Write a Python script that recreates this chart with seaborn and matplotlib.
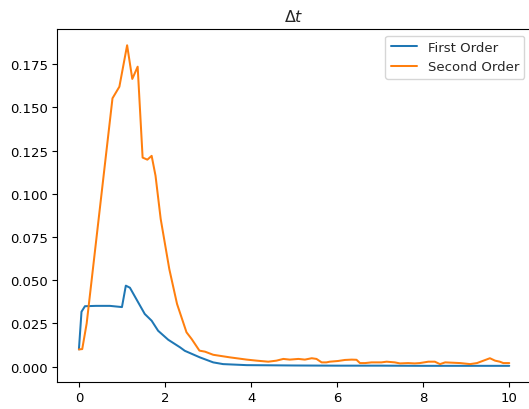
import numpy as np
import pandas as pd
import matplotlib
matplotlib.use("Agg")
import matplotlib.pyplot as plt
import seaborn as sns

first_x = [0.0, 0.06, 0.14, 0.4, 0.72, 1.0, 1.09, 1.185, 1.355, 1.53, 1.69, 1.84, 2.075,
           2.35, 2.46, 2.81, 3.12, 3.35, 3.9, 4.5, 5.0, 6.0, 7.0, 8.0, 9.0, 10.0]
first_y = [0.0100, 0.0318, 0.0350, 0.0352, 0.0352, 0.0345, 0.0469, 0.0457, 0.0382, 0.0305,
           0.0266, 0.0208, 0.0156, 0.0112, 0.0092, 0.0054, 0.0025, 0.0015, 0.0009, 0.0008,
           0.0007, 0.0006, 0.0006, 0.0005, 0.0005, 0.0005]

second_x = [0.0, 0.077, 0.18, 0.78, 0.94, 1.12, 1.24, 1.365, 1.48,
            1.59, 1.69, 1.78, 1.90, 2.10, 2.28, 2.50, 2.62, 2.80, 2.93, 3.12, 3.51, 3.90,
            4.13, 4.40, 4.59, 4.75, 4.90, 5.10, 5.25, 5.41, 5.52, 5.64, 5.75, 5.83, 6.02,
            6.18, 6.34, 6.45, 6.53, 6.65, 6.80, 7.03, 7.15, 7.34, 7.46, 7.65, 7.80, 7.92,
            8.12, 8.27, 8.39, 8.51, 8.86, 9.09, 9.25, 9.40, 9.55, 9.67, 9.78, 9.86, 10.0]
second_y = [0.0100, 0.0102, 0.0250, 0.1553, 0.1620, 0.1860,
            0.1665, 0.1736, 0.1210, 0.1198, 0.1220, 0.1105, 0.0855, 0.0565, 0.0363, 0.0199,
            0.0160, 0.0093, 0.0087, 0.0069, 0.0054, 0.0041, 0.0035, 0.0029, 0.0035, 0.0045,
            0.0041, 0.0045, 0.0041, 0.0049, 0.0045, 0.0025, 0.0025, 0.0029, 0.0033, 0.0039,
            0.0041, 0.0040, 0.0021, 0.0021, 0.0025, 0.0025, 0.0029, 0.0025, 0.0019, 0.0021,
            0.0019, 0.0021, 0.0029, 0.0029, 0.0015, 0.0025, 0.0021, 0.0015, 0.0021, 0.0035,
            0.0049, 0.0035, 0.0029, 0.0021, 0.0021]

labels = ["First Order", "Second Order"]

df = pd.concat([
    pd.DataFrame({"x": first_x, "y": first_y, "series": labels[0]}),
    pd.DataFrame({"x": second_x, "y": second_y, "series": labels[1]}),
], ignore_index=True)

sns.set_style("white")
plt.rcParams["font.family"] = ["DejaVu Sans"]
plt.rcParams["mathtext.fontset"] = "dejavusans"
fs = 9.5

fig = plt.figure(figsize=(5.29, 4.10), dpi=100)
W, H = 529, 410
left, right, top, bottom = 57.4, 530.8, 30.0, 382.7
ax = fig.add_axes([left / W, (H - bottom) / H, (right - left) / W, (bottom - top) / H])

sns.lineplot(data=df, x="x", y="y", hue="series", palette=["#1f77b4", "#ff7f0e"],
             estimator=None, sort=True, linewidth=1.45, ax=ax)

ax.set_xlim(-0.5, 10.5)
ax.set_ylim(-0.00868, 0.1954)
ax.set_xticks([0, 2, 4, 6, 8, 10])
ax.set_yticks([0, 0.025, 0.05, 0.075, 0.1, 0.125, 0.15, 0.175])
ax.set_yticklabels([f"{v:.3f}" for v in [0, 0.025, 0.05, 0.075, 0.1, 0.125, 0.15, 0.175]])
ax.set_xlabel("")
ax.set_ylabel("")
ax.set_title(r"$\Delta t$", fontsize=11.4, pad=6)
ax.tick_params(axis="both", which="major", direction="out", length=3.4, width=0.8,
               labelsize=fs, colors="black", left=True, bottom=True, pad=3.4)
for s in ax.spines.values():
    s.set_color("black")
    s.set_linewidth(0.8)

leg = ax.legend(loc="upper right", fontsize=fs, frameon=True, title=None)
leg.get_frame().set_edgecolor("#cccccc")

fig.savefig("out.png", dpi=100)
